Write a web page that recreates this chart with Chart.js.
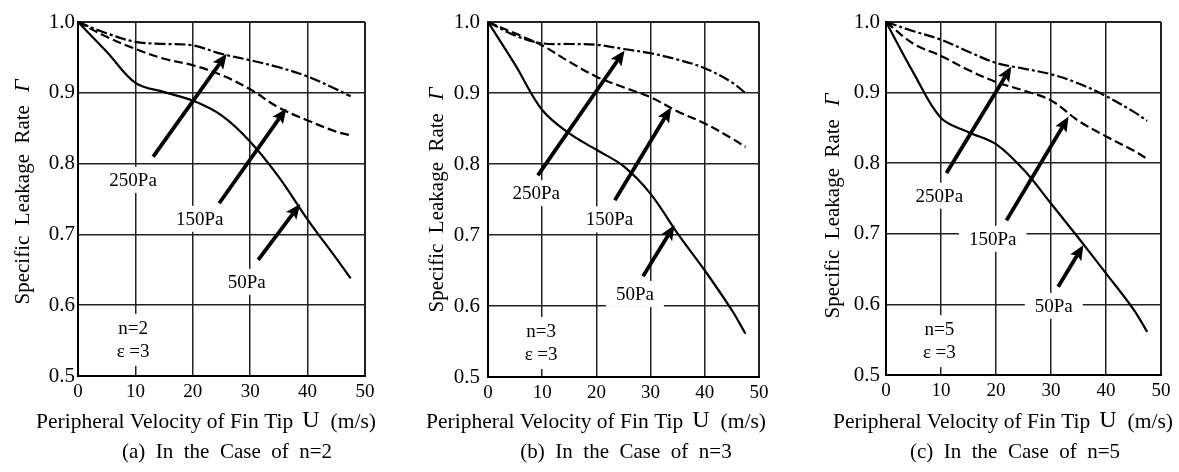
<!DOCTYPE html>
<html>
<head>
<meta charset="utf-8">
<script src="https://cdn.jsdelivr.net/npm/chart.js@4.4.1/dist/chart.umd.min.js"></script>
<style>
  body { margin: 0; background: #fff; }
  .panel { position: absolute; top: 0; width: 393px; height: 472px; }
</style>
</head>
<body>
<div class="panel" style="left:0px"><canvas id="chart_a"></canvas></div>
<div class="panel" style="left:393px"><canvas id="chart_b"></canvas></div>
<div class="panel" style="left:786px"><canvas id="chart_c"></canvas></div>
<script>
// shared axis data
const velocity = [0, 5, 10, 15, 20, 25, 30, 35, 40, 45, 47.5];
const xTicks = [0, 10, 20, 30, 40, 50];
const yTicks = [0.5, 0.6, 0.7, 0.8, 0.9, 1.0];
const pressureLabels = ["50Pa", "150Pa", "250Pa"];

// (a) n=2  -- specific leakage rate per pressure
const rateA50 = [1.0, 0.958, 0.914, 0.901, 0.889, 0.868, 0.831, 0.781, 0.721, 0.666, 0.638];
const rateA150 = [1.0, 0.979, 0.962, 0.948, 0.939, 0.925, 0.905, 0.879, 0.861, 0.845, 0.840];
const rateA250 = [1.0, 0.984, 0.972, 0.969, 0.967, 0.955, 0.946, 0.936, 0.923, 0.905, 0.895];
// arrows: [fromU, fromRate, toU, toRate], order 50 / 150 / 250 Pa
const arrowsA = [[31.4, 0.664, 38.7, 0.743], [24.6, 0.744, 36.3, 0.878], [13.1, 0.81, 25.9, 0.955]];
const labelPosA = [[29.4, 0.633], [21.2, 0.722], [9.6, 0.777]];
const notePosA = [9.6, 0.551];

// (b) n=3
const rateB50 = [1.0, 0.940, 0.876, 0.843, 0.820, 0.797, 0.758, 0.702, 0.650, 0.594, 0.561];
const rateB150 = [1.0, 0.984, 0.967, 0.944, 0.923, 0.908, 0.894, 0.874, 0.857, 0.836, 0.824];
const rateB250 = [1.0, 0.981, 0.970, 0.969, 0.968, 0.962, 0.956, 0.947, 0.935, 0.915, 0.900];
const arrowsB = [[28.6, 0.642, 34.4, 0.714], [23.4, 0.749, 33.8, 0.88], [9.2, 0.784, 25.2, 0.96]];
const labelPosB = [[27.1, 0.617], [22.4, 0.722], [8.9, 0.759]];
const notePosB = [9.8, 0.548];

// (c) n=5
const rateC50 = [1.0, 0.928, 0.864, 0.844, 0.827, 0.791, 0.743, 0.694, 0.644, 0.593, 0.561];
const rateC150 = [1.0, 0.969, 0.952, 0.932, 0.915, 0.903, 0.889, 0.860, 0.838, 0.818, 0.806];
const rateC250 = [1.0, 0.987, 0.975, 0.958, 0.942, 0.934, 0.926, 0.913, 0.895, 0.873, 0.860];
const arrowsC = [[31.3, 0.625, 35.9, 0.684], [21.9, 0.719, 33.2, 0.866], [11.0, 0.786, 22.8, 0.937]];
const labelPosC = [[30.5, 0.598], [19.4, 0.693], [9.7, 0.754]];
const notePosC = [9.7, 0.548];

const SERIF = "'Liberation Serif', 'Times New Roman', serif";
const dashStyles = [[], [9, 4], [11, 3, 3, 3]];

function drawArrow(ctx, x1, y1, x2, y2) {
  const ang = Math.atan2(y2 - y1, x2 - x1);
  const headLen = 15, headHalf = 6.5;
  const bx = x2 - Math.cos(ang) * headLen * 0.8;
  const by = y2 - Math.sin(ang) * headLen * 0.8;
  ctx.lineWidth = 3.8;
  ctx.lineCap = "butt";
  ctx.beginPath();
  ctx.moveTo(x1, y1);
  ctx.lineTo(bx, by);
  ctx.stroke();
  const px = -Math.sin(ang), py = Math.cos(ang);
  const cx = x2 - Math.cos(ang) * headLen, cy = y2 - Math.sin(ang) * headLen;
  ctx.beginPath();
  ctx.moveTo(x2, y2);
  ctx.lineTo(cx + px * headHalf, cy + py * headHalf);
  ctx.lineTo(bx, by);
  ctx.lineTo(cx - px * headHalf, cy - py * headHalf);
  ctx.closePath();
  ctx.fill();
}

function makeAnnotations(spec, geo) {
  return {
    id: "annotate_" + spec.id,
    beforeDatasetsDraw(chart) {
      const { ctx, scales: { x, y } } = chart;
      ctx.save();
      ctx.textAlign = "center";
      ctx.textBaseline = "middle";
      ctx.font = "19px " + SERIF;
      // pressure labels sit on white boxes that hide the grid
      spec.labelPos.forEach(function (p, i) {
        const px = x.getPixelForValue(p[0]);
        const py = y.getPixelForValue(p[1]);
        const w = ctx.measureText(pressureLabels[i]).width + 20;
        ctx.fillStyle = "#fff";
        ctx.fillRect(px - w / 2, py - 13, w, 26);
        ctx.fillStyle = "#000";
        ctx.fillText(pressureLabels[i], px, py + 1);
      });
      const nx = x.getPixelForValue(spec.notePos[0]);
      const ny = y.getPixelForValue(spec.notePos[1]);
      ctx.fillStyle = "#fff";
      ctx.fillRect(nx - 22, ny - 26, 44, 52);
      ctx.fillStyle = "#000";
      ctx.fillText("n=" + spec.n, nx, ny - 11);
      ctx.fillText("\u03b5 =3", nx, ny + 12);
      ctx.restore();
    },
    afterDatasetsDraw(chart) {
      const { ctx, scales: { x, y } } = chart;
      ctx.save();
      ctx.strokeStyle = "#000";
      ctx.fillStyle = "#000";
      spec.arrows.forEach(function (a) {
        drawArrow(ctx, x.getPixelForValue(a[0]), y.getPixelForValue(a[1]),
          x.getPixelForValue(a[2]), y.getPixelForValue(a[3]));
      });
      ctx.restore();
    },
    afterDraw(chart) {
      const ctx = chart.ctx;
      ctx.save();
      ctx.fillStyle = "#000";
      ctx.textBaseline = "middle";

      // y axis title, rotated, with italic Gamma
      ctx.translate(geo.yTitleX, geo.yTitleY);
      ctx.rotate(-Math.PI / 2);
      ctx.font = "21px " + SERIF;
      const yText = "Specific  Leakage  Rate";
      const wy = ctx.measureText(yText).width;
      ctx.font = "italic 22px " + SERIF;
      const wg = ctx.measureText("\u0393").width;
      const gap = 13;
      let sx = -(wy + gap + wg) / 2;
      ctx.textAlign = "left";
      ctx.font = "21px " + SERIF;
      ctx.fillText(yText, sx, 0);
      ctx.font = "italic 22px " + SERIF;
      ctx.fillText("\u0393", sx + wy + gap, 0);
      ctx.setTransform(1, 0, 0, 1, 0, 0);

      // x axis title
      const p1 = "Peripheral Velocity of Fin Tip", p2 = "U", p3 = "(m/s)";
      ctx.font = "21.5px " + SERIF;
      const w1 = ctx.measureText(p1).width, w3 = ctx.measureText(p3).width;
      ctx.font = "24px " + SERIF;
      const w2 = ctx.measureText(p2).width;
      const g1 = 9, g2 = 11;
      let tx = geo.xTitleX - (w1 + g1 + w2 + g2 + w3) / 2;
      ctx.font = "21.5px " + SERIF;
      ctx.fillText(p1, tx, 422);
      ctx.font = "24px " + SERIF;
      ctx.fillText(p2, tx + w1 + g1, 421);
      ctx.font = "21.5px " + SERIF;
      ctx.fillText(p3, tx + w1 + g1 + w2 + g2, 422);

      // caption
      ctx.textAlign = "center";
      ctx.font = "21px " + SERIF;
      ctx.fillText(spec.caption, geo.captionX, 452);
      ctx.restore();
    }
  };
}

function buildChart(spec, geo) {
  const edgeWidth = function (c) {
    return c.index === 0 || c.index === c.scale.ticks.length - 1 ? 2 : 1.5;
  };
  return new Chart(document.getElementById(spec.id), {
    type: "line",
    data: {
      datasets: spec.rates.map(function (vals, i) {
        return {
          label: pressureLabels[i],
          data: velocity.map(function (u, k) { return { x: u, y: vals[k] }; }),
          borderColor: "#000",
          borderWidth: 2.2,
          borderDash: dashStyles[i],
          pointRadius: 0,
          fill: false,
          tension: 0.35
        };
      })
    },
    options: {
      responsive: true,
      maintainAspectRatio: false,
      animation: false,
      layout: { padding: { left: geo.padLeft, right: geo.padRight, top: 22, bottom: geo.padBottom } },
      plugins: { legend: { display: false }, tooltip: { enabled: false }, title: { display: false } },
      scales: {
        x: {
          type: "linear",
          min: 0,
          max: 50,
          afterBuildTicks: function (s) { s.ticks = xTicks.map(function (v) { return { value: v }; }); },
          afterFit: function (s) { s.height = 24; },
          grid: { color: "#222", lineWidth: edgeWidth, drawTicks: false },
          border: { color: "#000", width: 2 },
          ticks: { color: "#000", padding: 5, maxRotation: 0, font: { family: SERIF, size: 19 } }
        },
        y: {
          type: "linear",
          min: 0.5,
          max: 1.0,
          afterBuildTicks: function (s) { s.ticks = yTicks.map(function (v) { return { value: v }; }); },
          afterFit: function (s) { s.width = 40; },
          grid: { color: "#222", lineWidth: edgeWidth, drawTicks: false },
          border: { color: "#000", width: 2 },
          ticks: {
            color: "#000",
            padding: geo.tickPad,
            font: { family: SERIF, size: 21 },
            callback: function (v) { return Number(v).toFixed(1); }
          }
        }
      }
    },
    plugins: [makeAnnotations(spec, geo)]
  });
}

buildChart(
  { id: "chart_a", n: 2, caption: "(a)  In  the  Case  of  n=2", rates: [rateA50, rateA150, rateA250], arrows: arrowsA, labelPos: labelPosA, notePos: notePosA },
  { padLeft: 38, padRight: 28, padBottom: 72, tickPad: 3, yTitleX: 23, yTitleY: 192, xTitleX: 206, captionX: 227 }
);
buildChart(
  { id: "chart_b", n: 3, caption: "(b)  In  the  Case  of  n=3", rates: [rateB50, rateB150, rateB250], arrows: arrowsB, labelPos: labelPosB, notePos: notePosB },
  { padLeft: 55, padRight: 27, padBottom: 71, tickPad: 8, yTitleX: 44, yTitleY: 200, xTitleX: 203, captionX: 233 }
);
buildChart(
  { id: "chart_c", n: 5, caption: "(c)  In  the  Case  of  n=5", rates: [rateC50, rateC150, rateC250], arrows: arrowsC, labelPos: labelPosC, notePos: notePosC },
  { padLeft: 60, padRight: 18, padBottom: 73, tickPad: 6, yTitleX: 47, yTitleY: 206, xTitleX: 217, captionX: 229 }
);
</script>
</body>
</html>
